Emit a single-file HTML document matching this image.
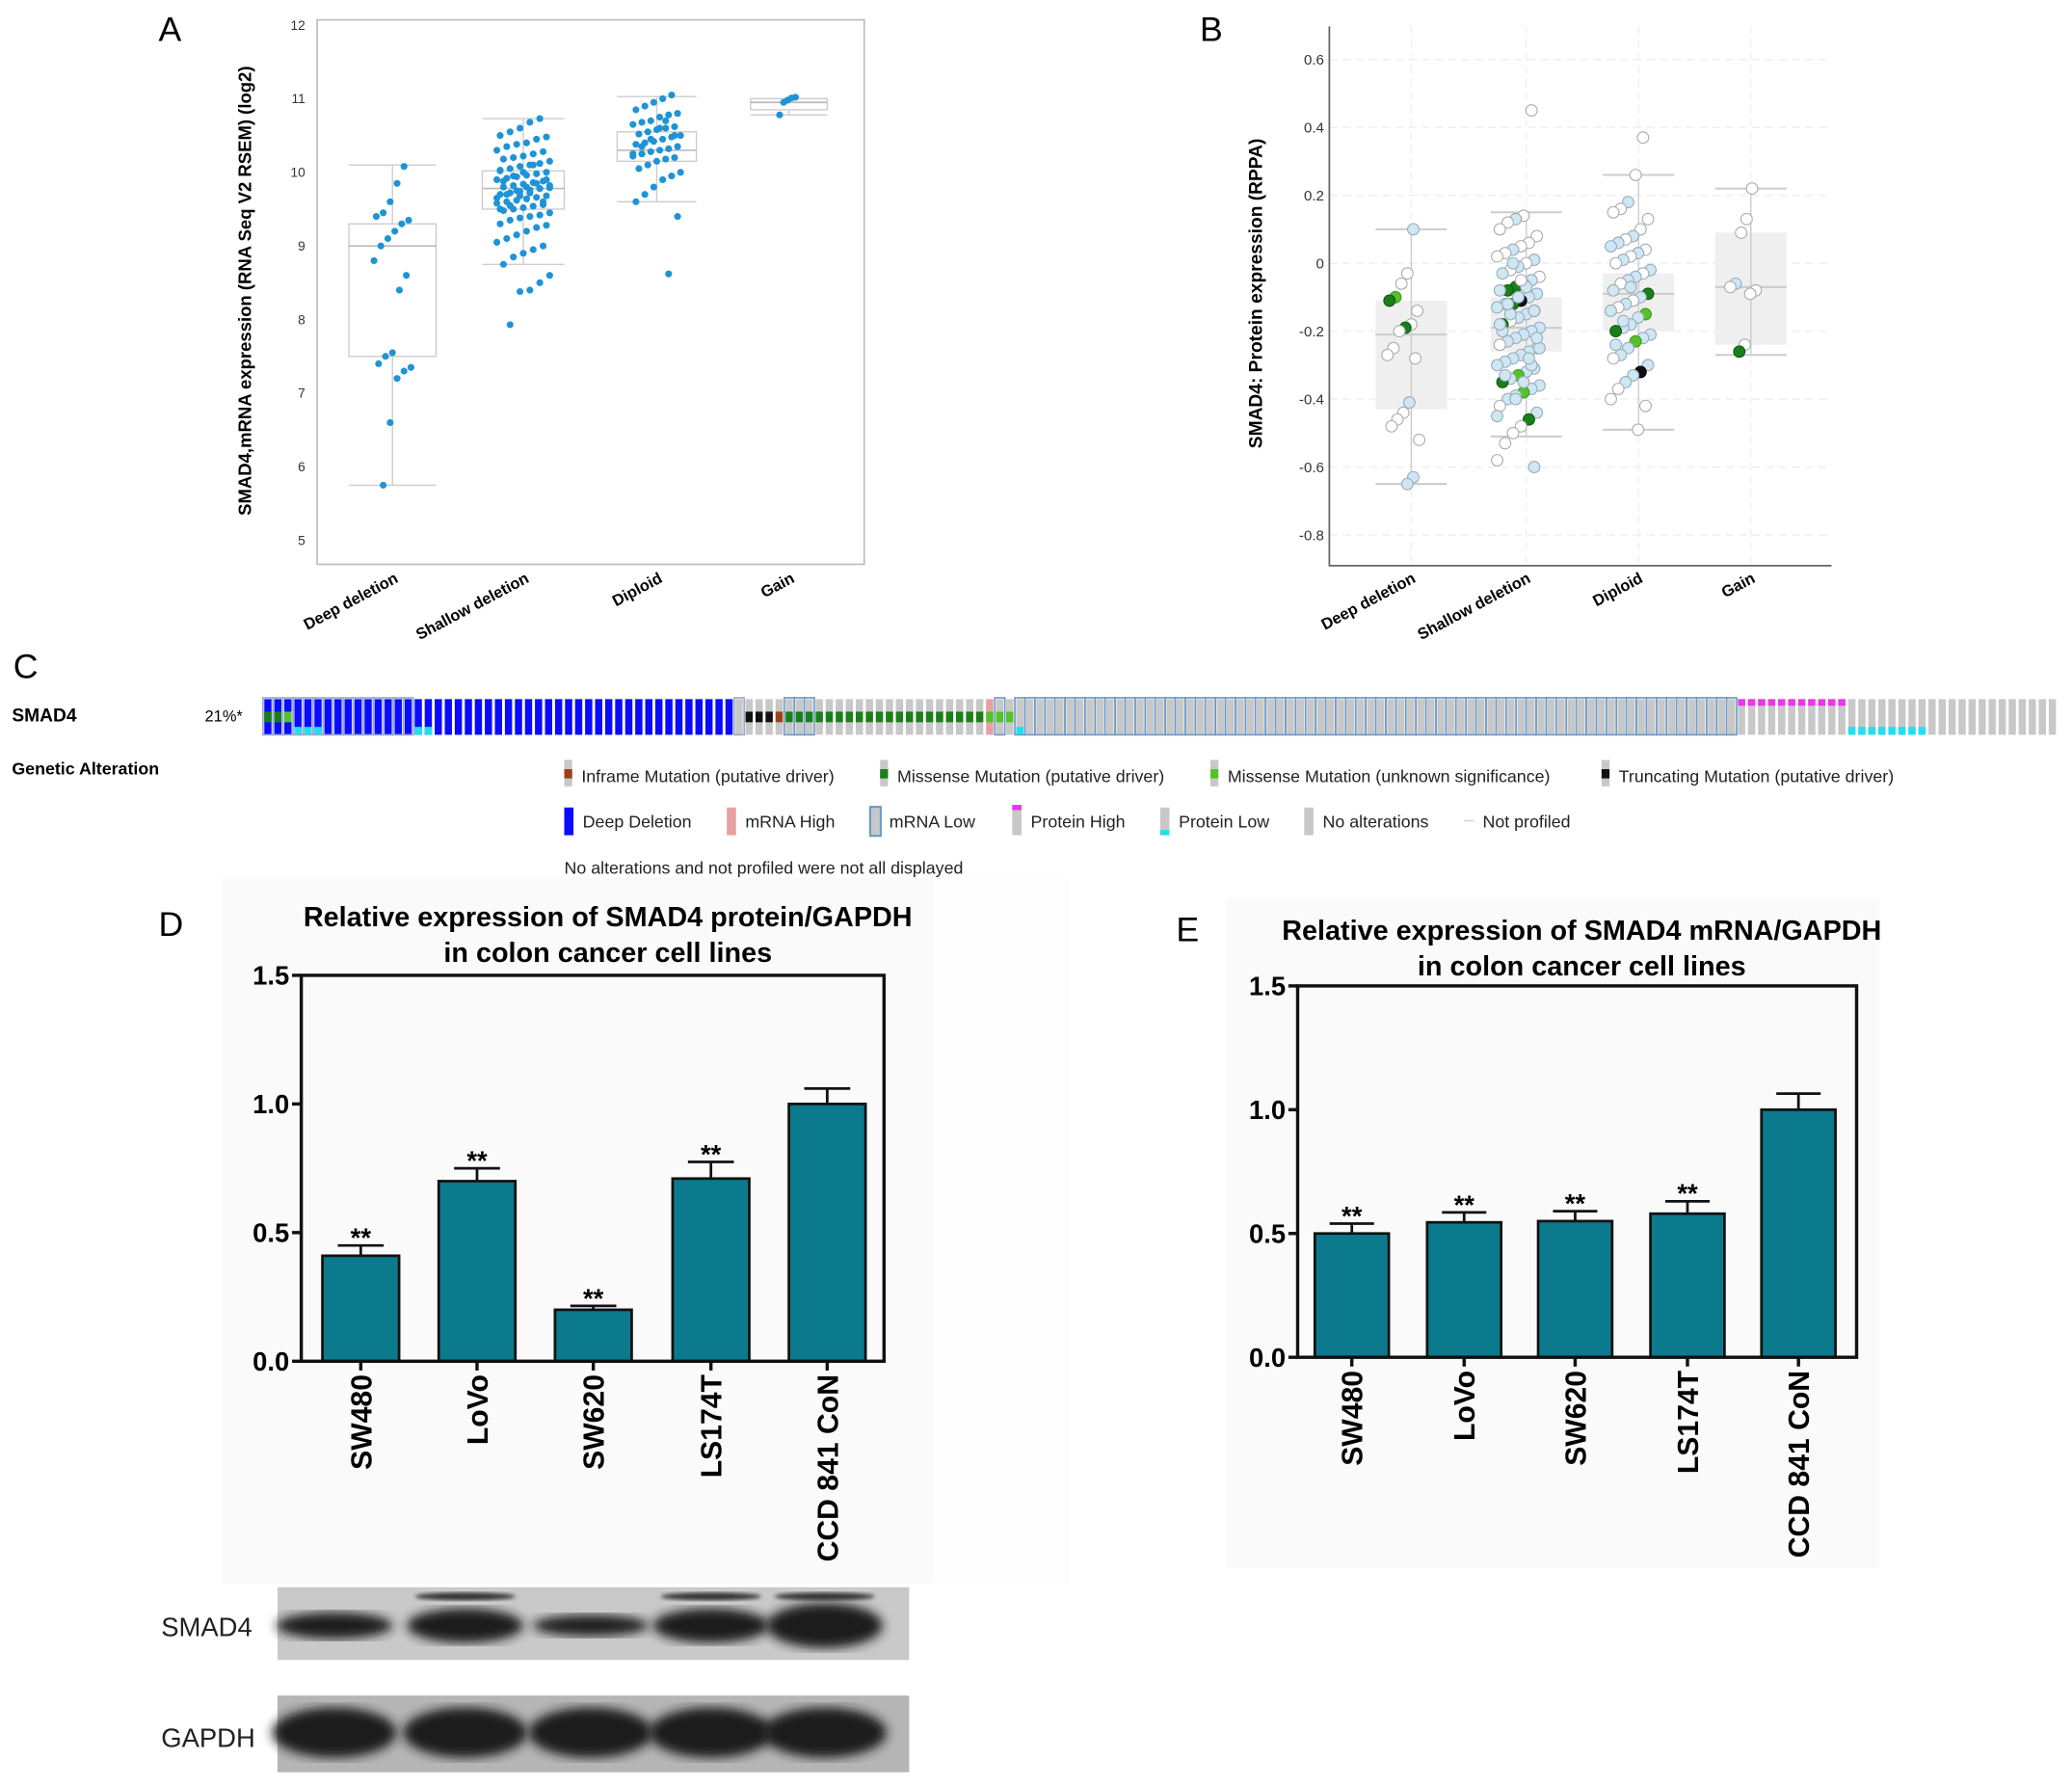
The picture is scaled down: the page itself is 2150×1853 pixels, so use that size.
<!DOCTYPE html>
<html><head><meta charset="utf-8">
<style>
html,body{margin:0;padding:0;background:#fff;}
svg{display:block;font-family:"Liberation Sans",Arial,sans-serif;}
</style></head>
<body>
<svg id="fig" width="2150" height="1853" viewBox="0 0 1568 1351.4" preserveAspectRatio="none" xmlns="http://www.w3.org/2000/svg">
<defs>
<filter id="blur3"><feGaussianBlur stdDeviation="4"/></filter>
<filter id="blur1"><feGaussianBlur stdDeviation="1.5"/></filter>
</defs>
<rect x="0" y="0" width="1568" height="1352" fill="#fff"/>
<rect x="168" y="664" width="538" height="534" fill="#fafafa"/>
<rect x="706" y="664" width="104" height="534" fill="#fdfdfd"/>
<rect x="928" y="680" width="494" height="506" fill="#fafafa"/>

<g id="gA"></g>
<g id="gB"></g>
<g id="gC"></g>
<g id="gD"></g>
<g id="gE"></g>
<g id="gBlot"></g>
</svg>
<script>
// ===== Panel A data =====
const catsA = ["Deep deletion","Shallow deletion","Diploid","Gain"];
const boxA_q1 = [7.5, 9.5, 10.15, 10.85];
const boxA_med = [9.0, 9.78, 10.3, 10.95];
const boxA_q3 = [9.3, 10.02, 10.55, 11.0];
const boxA_lo = [5.75, 8.75, 9.6, 10.78];
const boxA_hi = [10.1, 10.73, 11.03, 11.0];
const ptsA_deep = [10.08,9.85,9.6,9.45,9.4,9.35,9.3,9.2,9.1,9.0,8.8,8.6,8.4,7.55,7.5,7.4,7.35,7.3,7.2,6.6,5.75];
const ptsA_shallow = [10.73,10.68,10.6,10.55,10.5,10.48,10.45,10.4,10.38,10.35,10.3,10.28,10.25,10.22,10.2,10.18,10.15,10.12,10.1,10.08,10.05,10.03,10.0,9.98,9.96,9.94,9.92,9.9,9.88,9.86,9.84,9.82,9.8,9.79,9.78,9.76,9.74,9.72,9.7,9.68,9.66,9.64,9.62,9.6,9.58,9.56,9.54,9.52,9.5,9.48,9.45,9.42,9.4,9.38,9.35,9.3,9.28,9.25,9.2,9.15,9.1,9.05,9.0,8.95,8.9,8.85,8.75,8.6,8.5,8.4,8.38,7.93,10.02,9.9,9.85,9.8,9.75,9.7,9.65,9.6,10.1,10.0,9.95,9.88,9.82,9.78,9.72,9.68,9.55,9.5];
const ptsA_diploid = [11.05,11.0,10.95,10.9,10.85,10.8,10.78,10.75,10.7,10.68,10.65,10.62,10.6,10.58,10.55,10.52,10.5,10.48,10.45,10.42,10.4,10.38,10.35,10.32,10.3,10.28,10.25,10.22,10.2,10.18,10.15,10.1,10.05,10.0,9.95,9.9,9.8,9.7,9.6,9.4,8.62,10.6,10.45,10.35,10.25,10.5,10.7];
const ptsA_gain = [11.02,11.01,10.98,10.95,10.78];
const ticksA = [5,6,7,8,9,10,11,12];

// ===== Panel B data =====
const catsB = ["Deep deletion","Shallow deletion","Diploid","Gain"];
const boxB_q1 = [-0.43,-0.26,-0.2,-0.24];
const boxB_med = [-0.21,-0.19,-0.09,-0.07];
const boxB_q3 = [-0.11,-0.1,-0.03,0.09];
const boxB_lo = [-0.65,-0.51,-0.49,-0.27];
const boxB_hi = [0.1,0.15,0.26,0.22];
const ptsB_deep = [0.1,-0.03,-0.06,-0.1,-0.11,-0.14,-0.18,-0.19,-0.2,-0.25,-0.27,-0.28,-0.41,-0.44,-0.46,-0.48,-0.52,-0.63,-0.65];
const typB_deep = ["b","w","w","lg","g","w","w","g","w","w","w","w","b","w","w","w","w","b","b"];
const ptsB_shallow = [0.45,0.14,0.13,0.12,0.1,0.08,0.06,0.05,0.04,0.03,0.02,0.01,0.0,-0.01,-0.02,-0.03,-0.04,-0.05,-0.06,-0.07,-0.08,-0.08,-0.09,-0.1,-0.11,-0.12,-0.12,-0.13,-0.14,-0.15,-0.16,-0.17,-0.18,-0.19,-0.2,-0.21,-0.22,-0.23,-0.24,-0.25,-0.26,-0.27,-0.28,-0.29,-0.3,-0.31,-0.32,-0.33,-0.34,-0.35,-0.36,-0.37,-0.38,-0.39,-0.4,-0.42,-0.44,-0.46,-0.48,-0.5,-0.53,-0.58,-0.6,-0.07,-0.1,-0.15,-0.2,-0.25,-0.3,-0.35,-0.4,-0.12,-0.18,-0.22,-0.28,-0.05,0.0,-0.33,-0.45,-0.14];
const typB_shallow = ["w","w","b","w","w","w","w","w","b","w","w","b","w","b","w","b","w","b","b","g","g","b","b","b","k","g","b","b","g","b","b","w","g","b","b","b","b","b","w","b","b","b","b","b","b","b","b","lg","b","g","b","b","lg","b","b","w","b","g","w","w","w","w","b","b","b","b","b","b","b","b","b","b","b","b","b","w","b","b","b","b"];
const ptsB_diploid = [0.37,0.26,0.18,0.16,0.15,0.13,0.1,0.08,0.07,0.06,0.05,0.04,0.03,0.02,0.01,0.0,-0.02,-0.03,-0.04,-0.05,-0.06,-0.08,-0.09,-0.1,-0.11,-0.12,-0.13,-0.14,-0.15,-0.16,-0.18,-0.19,-0.2,-0.21,-0.22,-0.23,-0.25,-0.27,-0.28,-0.3,-0.32,-0.33,-0.35,-0.37,-0.4,-0.42,-0.49,-0.07,-0.17,-0.24];
const typB_diploid = ["w","w","b","w","w","w","w","b","w","b","b","w","b","w","b","w","b","w","b","b","w","b","g","b","w","b","w","b","lg","b","b","b","g","b","b","lg","b","b","w","b","k","b","b","w","w","w","w","b","b","b"];
const ptsB_gain = [0.22,0.13,0.09,-0.06,-0.07,-0.08,-0.09,-0.24,-0.26];
const typB_gain = ["w","w","w","b","w","w","w","w","g"];
const ticksB = [0.6,0.4,0.2,0,-0.2,-0.4,-0.6,-0.8];

// ===== Panel D data =====
const catsD = ["SW480","LoVo","SW620","LS174T","CCD 841 CoN"];
const valsD = [0.41,0.70,0.20,0.71,1.00];
const errsD = [0.04,0.05,0.015,0.065,0.06];
const sigD = ["**","**","**","**",""];
// ===== Panel E data =====
const catsE = ["SW480","LoVo","SW620","LS174T","CCD 841 CoN"];
const valsE = [0.50,0.545,0.55,0.58,1.00];
const errsE = [0.04,0.04,0.04,0.05,0.065];
const sigE = ["**","**","**","**",""];
const ticksBar = [0,0.5,1.0,1.5];
const tickLabelsBar = ["0.0","0.5","1.0","1.5"];

const NS="http://www.w3.org/2000/svg";
function mk(parent, tag, attrs, text){
  const e=document.createElementNS(NS,tag);
  for(const k in attrs) e.setAttribute(k,attrs[k]);
  if(text!==undefined) e.textContent=text;
  parent.appendChild(e); return e;
}
function jit(i){ return (((i*7919+13)%17)/8-1); }

// ===== Panel A =====
(function(){
  const g=document.getElementById('gA');
  const y=v=>19+(12-v)*55.7;
  const xs=[297,396,497,597], hw=[33,31,30,29];
  let t=mk(g,'text',{x:120,y:31,'font-size':26},'A');
  
  
  let r=mk(g,'rect',{x:240,y:15,width:414,height:412,fill:'none',stroke:'#bbb','stroke-width':1.2});
  
  
  ticksA.forEach(v=>{
    const tl=mk(g,'text',{x:231,y:y(v)+3.5,'font-size':10,'text-anchor':'end',fill:'#333'},String(v));
    
    
  });
  const yt=mk(g,'text',{x:0,y:0,'font-size':13.5,'font-weight':'bold','text-anchor':'middle',transform:'translate(190,220) rotate(-90)'},'SMAD4,mRNA expression (RNA Seq V2 RSEM) (log2)');
  
  
  const pts=[ptsA_deep,ptsA_shallow,ptsA_diploid,ptsA_gain];
  catsA.forEach((c,i)=>{
    const x=xs[i];
    const bx=mk(g,'g',{});
    
    
    mk(bx,'line',{x1:x,x2:x,y1:y(boxA_hi[i]),y2:y(boxA_lo[i]),stroke:'#ccc'});
    mk(bx,'line',{x1:x-hw[i],x2:x+hw[i],y1:y(boxA_hi[i]),y2:y(boxA_hi[i]),stroke:'#ccc'});
    mk(bx,'line',{x1:x-hw[i],x2:x+hw[i],y1:y(boxA_lo[i]),y2:y(boxA_lo[i]),stroke:'#ccc'});
    mk(bx,'rect',{x:x-hw[i],y:y(boxA_q3[i]),width:2*hw[i],height:y(boxA_q1[i])-y(boxA_q3[i]),fill:'#fff',stroke:'#ccc'});
    mk(bx,'line',{x1:x-hw[i],x2:x+hw[i],y1:y(boxA_med[i]),y2:y(boxA_med[i]),stroke:'#bbb','stroke-width':1.2});
    const jw=[14,20,18,8][i];
    pts[i].forEach((v,k)=>{
      const c2=mk(g,'circle',{cx:x+jit(k)*jw,cy:y(v),r:2.6,fill:'#1f93d6'});
      
      
    });
    const xl=mk(g,'text',{x:0,y:0,'font-size':12,'font-weight':'bold','text-anchor':'end',transform:`translate(${x+5},440) rotate(-28)`},c);
    
    
  });
})();

// ===== Panel B =====
(function(){
  const g=document.getElementById('gB');
  const y=v=>45+(0.6-v)/0.2*51.4;
  const xs=[1068,1155,1240,1325], hw=[27,27,27,27];
  let t=mk(g,'text',{x:908,y:31,'font-size':26},'B');
  
  
  ticksB.forEach(v=>{
    const gl=mk(g,'line',{x1:1006,x2:1386,y1:y(v),y2:y(v),stroke:'#eee','stroke-dasharray':'6,4'});
    
    
    const tl=mk(g,'text',{x:1002,y:y(v)+4,'font-size':11,'text-anchor':'end',fill:'#333'},(v===0?'0':String(v)));
    
    
  });
  xs.forEach(x=>{
    const gl=mk(g,'line',{x1:x,x2:x,y1:20,y2:428,stroke:'#f0f0f0','stroke-dasharray':'6,4'});
    
    
  });
  const ax=mk(g,'path',{d:'M1006,20 V428 H1386',fill:'none',stroke:'#666','stroke-width':1.3});
  
  
  const yt=mk(g,'text',{x:0,y:0,'font-size':14,'font-weight':'bold','text-anchor':'middle',transform:'translate(955,222) rotate(-90)'},'SMAD4: Protein expression (RPPA)');
  
  
  const pts=[ptsB_deep,ptsB_shallow,ptsB_diploid,ptsB_gain];
  const typ=[typB_deep,typB_shallow,typB_diploid,typB_gain];
  const col={w:['#fff','#aaa'],b:['#cfe6f3','#9ab'],g:['#1a7f1a','#0d5c0d'],lg:['#55c22a','#3a9a1a'],k:['#111','#000']};
  catsB.forEach((c,i)=>{
    const x=xs[i];
    const bx=mk(g,'g',{});
    
    
    mk(bx,'rect',{x:x-hw[i],y:y(boxB_q3[i]),width:2*hw[i],height:y(boxB_q1[i])-y(boxB_q3[i]),fill:'#efefef'});
    mk(bx,'line',{x1:x,x2:x,y1:y(boxB_hi[i]),y2:y(boxB_lo[i]),stroke:'#ccc'});
    mk(bx,'line',{x1:x-hw[i],x2:x+hw[i],y1:y(boxB_hi[i]),y2:y(boxB_hi[i]),stroke:'#ccc','stroke-width':1.5});
    mk(bx,'line',{x1:x-hw[i],x2:x+hw[i],y1:y(boxB_lo[i]),y2:y(boxB_lo[i]),stroke:'#ccc','stroke-width':1.5});
    mk(bx,'line',{x1:x-hw[i],x2:x+hw[i],y1:y(boxB_med[i]),y2:y(boxB_med[i]),stroke:'#ccc','stroke-width':1.5});
    const jw=[12,16,15,11][i];
    pts[i].forEach((v,k)=>{
      const cc=col[typ[i][k]]||col.w;
      const c2=mk(g,'circle',{cx:x-6+jit(k)*jw,cy:y(v),r:4.3,fill:cc[0],stroke:cc[1],'stroke-width':0.8});
      
      
    });
    const xl=mk(g,'text',{x:0,y:0,'font-size':12,'font-weight':'bold','text-anchor':'end',transform:`translate(${x+4},440) rotate(-28)`},c);
    
    
  });
})();

// ===== Panel C (oncoprint) =====
(function(){
  const g=document.getElementById('gC');
  let t=mk(g,'text',{x:10,y:513,'font-size':26},'C');
  
  
  t=mk(g,'text',{x:9,y:546,'font-size':14,'font-weight':'bold'},'SMAD4');
  
  
  t=mk(g,'text',{x:155,y:546,'font-size':12},'21%*');
  
  
  t=mk(g,'text',{x:9,y:586,'font-size':13,'font-weight':'bold'},'Genetic Alteration');
  
  
  const cols=[];
  const push=(n,base,mid,bot,top,out)=>{for(let i=0;i<n;i++)cols.push([base,mid,bot,top,out]);};
  push(2,'#0a0aff','#1a7f1a','','', '#9ac');
  push(1,'#0a0aff','#55c22a','','', '#9ac');
  push(2,'#0a0aff','','#20e0f0','', '#9ac');
  push(1,'#0a0aff','','#20e0f0','', '#9ac');
  push(9,'#0a0aff','','','', '#9ac');
  push(2,'#0a0aff','','#20e0f0','', '');
  push(30,'#0a0aff','','','', '');
  push(1,'#c8c8c8','','','', '#9ac');
  push(1,'#c8c8c8','#111','','', '');
  push(1,'#c8c8c8','#111','','', '');
  push(1,'#c8c8c8','#111','','', '');
  push(1,'#c8c8c8','#a0401a','','', '');
  push(3,'#c8c8c8','#1a7f1a','','', '#6a9acb');
  push(17,'#c8c8c8','#1a7f1a','','', '');
  push(1,'#e8a0a0','#55c22a','','', '');
  push(1,'#c8c8c8','#55c22a','','', '#6a9acb');
  push(1,'#c8c8c8','#55c22a','','', '');
  push(1,'#c8c8c8','','#20e0f0','', '#6a9acb');
  push(71,'#c8c8c8','','','', '#6a9acb');
  push(11,'#c8c8c8','','','#ee33ee', '');
  push(8,'#c8c8c8','','#20e0f0','', '');
  push(13,'#c8c8c8','','','', '');
  const x0=200, step=(1558-200)/cols.length, w=step*0.72;
  cols.forEach((c,i)=>{
    const x=x0+i*step;
    const cg=mk(g,'g',{});
    
    
    mk(cg,'rect',{x:x,y:529,width:w,height:27,fill:c[0]});
    if(c[1]) mk(cg,'rect',{x:x,y:538.5,width:w,height:8,fill:c[1]});
    if(c[2]) mk(cg,'rect',{x:x,y:550,width:w,height:6,fill:c[2]});
    if(c[3]) mk(cg,'rect',{x:x,y:529,width:w,height:5,fill:c[3]});
    if(c[4]) mk(cg,'rect',{x:x-1,y:528,width:step,height:28,fill:'none',stroke:c[4],'stroke-width':1.2});
  });
  const leg=[
    [427,587,'#a0401a','Inframe Mutation (putative driver)'],
    [666,587,'#1a7f1a','Missense Mutation (putative driver)'],
    [916,587,'#55c22a','Missense Mutation (unknown significance)'],
    [1212,587,'#111','Truncating Mutation (putative driver)'],
  ];
  leg.forEach(l=>{
    const lg=mk(g,'g',{});
    
    
    mk(lg,'rect',{x:l[0],y:l[1]-12,width:6,height:20,fill:'#c8c8c8'});
    mk(lg,'rect',{x:l[0],y:l[1]-5,width:6,height:7,fill:l[2]});
    mk(lg,'text',{x:l[0]+13,y:l[1]+5,'font-size':13,fill:'#222'},l[3]);
  });
  const leg2=[
    [427,'#0a0aff','','','Deep Deletion'],
    [550,'#e8a0a0','','','mRNA High'],
    [659,'#c8c8c8','outline','','mRNA Low'],
    [766,'#c8c8c8','top','','Protein High'],
    [878,'#c8c8c8','bot','','Protein Low'],
    [987,'#c8c8c8','','','No alterations'],
    [1108,'','','','Not profiled'],
  ];
  leg2.forEach(l=>{
    const lg=mk(g,'g',{});
    
    
    if(l[1]) mk(lg,'rect',{x:l[0],y:611,width:7,height:21,fill:l[1]});
    else mk(lg,'line',{x1:l[0],x2:l[0]+7,y1:621,y2:621,stroke:'#ccc'});
    if(l[2]==='outline') mk(lg,'rect',{x:l[0]-0.5,y:610.5,width:8,height:22,fill:'none',stroke:'#6a9acb','stroke-width':1.5});
    if(l[2]==='top') mk(lg,'rect',{x:l[0],y:609,width:7,height:4,fill:'#ee33ee'});
    if(l[2]==='bot') mk(lg,'rect',{x:l[0],y:628,width:7,height:4,fill:'#20e0f0'});
    mk(lg,'text',{x:l[0]+14,y:626,'font-size':13,fill:'#222'},l[4]);
  });
  t=mk(g,'text',{x:427,y:661,'font-size':13,fill:'#222'},'No alterations and not profiled were not all displayed');
  
  
})();

// ===== Bar charts D & E =====
function barChart(gid, letter, lx, ly, title1, title2, tx, ty, left, right, top, bottom, xs, bw, cats, vals, errs, sig, prefix){
  const g=document.getElementById(gid);
  const y=v=>bottom-(v/1.5)*(bottom-top);
  let t=mk(g,'text',{x:lx,y:ly,'font-size':26},letter);
  
  
  t=mk(g,'text',{x:tx,y:ty,'font-size':21,'font-weight':'bold','text-anchor':'middle'},title1);
  
  
  t=mk(g,'text',{x:tx,y:ty+27,'font-size':21,'font-weight':'bold','text-anchor':'middle'},title2);
  
  
  cats.forEach((c,i)=>{
    const x=xs[i];
    const bg=mk(g,'g',{});
    
    
    const yt=y(vals[i]+errs[i]);
    mk(bg,'line',{x1:x,x2:x,y1:y(vals[i]),y2:yt,stroke:'#111','stroke-width':2});
    mk(bg,'line',{x1:x-bw*0.3,x2:x+bw*0.3,y1:yt,y2:yt,stroke:'#111','stroke-width':2});
    mk(bg,'rect',{x:x-bw/2,y:y(vals[i]),width:bw,height:bottom-y(vals[i]),fill:'#0b7a8c',stroke:'#111','stroke-width':2});
    if(sig[i]){
      const s=mk(g,'text',{x:x,y:yt+1,'font-size':20,'font-weight':'bold','text-anchor':'middle'},sig[i]);
      
      
    }
    const xl=mk(g,'text',{x:0,y:0,'font-size':22,'font-weight':'bold','text-anchor':'end',transform:`translate(${x+8},${bottom+10}) rotate(-90)`},c);
    
    
  });
  const fr=mk(g,'rect',{x:left,y:top,width:right-left,height:bottom-top,fill:'none',stroke:'#111','stroke-width':2.5});
  
  
  ticksBar.forEach((v,i)=>{
    mk(g,'line',{x1:left-7,x2:left,y1:y(v),y2:y(v),stroke:'#111','stroke-width':2.5});
    const tl=mk(g,'text',{x:left-9,y:y(v)+7,'font-size':20,'font-weight':'bold','text-anchor':'end'},tickLabelsBar[i]);
    
    
  });
  xs.forEach(x=>mk(g,'line',{x1:x,x2:x,y1:bottom,y2:bottom+7,stroke:'#111','stroke-width':2.5}));
}
barChart('gD','D',120,708,'Relative expression of SMAD4 protein/GAPDH','in colon cancer cell lines',460,701,228,669,738,1030,[273,361,449,538,626],58,catsD,valsD,errsD,sigD,'d');
barChart('gE','E',890,712,'Relative expression of SMAD4 mRNA/GAPDH','in colon cancer cell lines',1197,711,982,1405,746,1027,[1023,1108,1192,1277,1361],56,catsE,valsE,errsE,sigE,'e');

// ===== Western blot =====
(function(){
  const g=document.getElementById('gBlot');
  let t=mk(g,'text',{x:122,y:1238,'font-size':20,fill:'#222'},'SMAD4');
  
  
  t=mk(g,'text',{x:122,y:1322,'font-size':20,fill:'#222'},'GAPDH');
  
  
  const s1=mk(g,'rect',{x:210,y:1201,width:478,height:55,fill:'#c9c9c9'});
  
  
  const s2=mk(g,'rect',{x:210,y:1283,width:478,height:58,fill:'#b5b5b5'});
  
  
  const lanes=[253,352,447,538,624];
  const ry1=[10,13,8,13,17];
  lanes.forEach((x,i)=>{
    const b=mk(g,'ellipse',{cx:x,cy:1230,rx:44,ry:ry1[i],fill:'#1a1a1a',filter:'url(#blur3)'});
    
    
    const b2=mk(g,'ellipse',{cx:x,cy:1311,rx:47,ry:19,fill:'#1c1c1c',filter:'url(#blur3)'});
    
    
  });
  [352,538,624].forEach(x=>mk(g,'ellipse',{cx:x,cy:1208,rx:38,ry:3,fill:'#333',filter:'url(#blur1)'}));
})();
</script>
</body></html>
